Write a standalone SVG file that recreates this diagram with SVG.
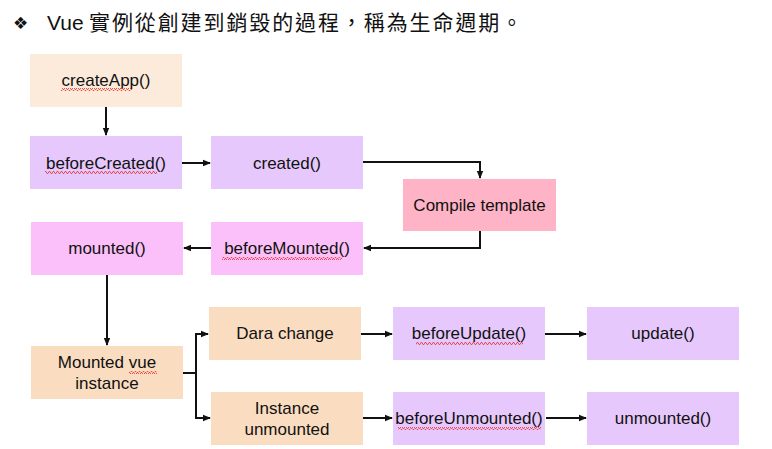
<svg xmlns="http://www.w3.org/2000/svg" width="772" height="449" viewBox="0 0 772 449">
<style>
.t{font-family:"Liberation Sans",Arial,sans-serif;font-size:17px;fill:#111;text-anchor:middle}
.peachL{fill:#FCEADB}.lav{fill:#E6C8FC}.pink{fill:#FFB3C6}.mag{fill:#FBC0F9}.peach{fill:#FADDC0}
.c{fill:none;stroke:#111;stroke-width:2}
.sq{fill:url(#squig)}
</style>
<defs>
<marker id="ah" viewBox="0 0 8 8" refX="7" refY="4" markerWidth="4" markerHeight="4" markerUnits="strokeWidth" orient="auto">
<path d="M0,0.8 L8,4 L0,7.2 Z" fill="#111"/>
</marker>
<pattern id="squig" x="0" y="0" width="4" height="3" patternUnits="userSpaceOnUse">
<path d="M0,2.5 L1,0.5 L2,0.5 L3,2.5 L4,2.5" fill="none" stroke="#E23030" stroke-width="0.8"/>
</pattern>
</defs>
<rect width="772" height="449" fill="#fff"/>
<g id="title">
<text x="13" y="29" font-family="'DejaVu Sans',sans-serif" font-size="17" fill="#111">❖</text>
<text y="30" font-family="'Liberation Sans','Noto Sans CJK TC',sans-serif" fill="#111"><tspan x="47" font-size="21">Vue</tspan><tspan x="89" font-size="21" letter-spacing="1.9" font-family="'Noto Sans CJK TC','Liberation Sans',sans-serif">實例從創建到銷毀的過程，稱為生命週期。</tspan></text>
</g>
<g id="connectors">
<path class="c" d="M106,107 V135" marker-end="url(#ah)"/>
<path class="c" d="M182,163 H210" marker-end="url(#ah)"/>
<path class="c" d="M363,162 H480 V178" marker-end="url(#ah)"/>
<path class="c" d="M480,231 V248 H364" marker-end="url(#ah)"/>
<path class="c" d="M211,248 H184" marker-end="url(#ah)"/>
<path class="c" d="M107,275 V345" marker-end="url(#ah)"/>
<path class="c" d="M183,373 H196"/>
<path class="c" d="M196,373 V334 H208" marker-end="url(#ah)"/>
<path class="c" d="M196,373 V418 H210" marker-end="url(#ah)"/>
<path class="c" d="M361,334 H392" marker-end="url(#ah)"/>
<path class="c" d="M363,418 H392" marker-end="url(#ah)"/>
<path class="c" d="M545,334 H586" marker-end="url(#ah)"/>
<path class="c" d="M546,418 H586" marker-end="url(#ah)"/>
</g>
<g id="createApp"><rect class="peachL" x="30" y="54" width="152" height="53"/><text class="t" x="106" y="86">createApp()</text><rect class="sq" x="61" y="88" width="71" height="3"/></g>
<g id="beforeCreated"><rect class="lav" x="30" y="136" width="152" height="53"/><text class="t" x="106" y="169">beforeCreated()</text><rect class="sq" x="45" y="171" width="112" height="3"/></g>
<g id="created"><rect class="lav" x="211" y="136" width="152" height="53"/><text class="t" x="287" y="169">created()</text></g>
<g id="compile"><rect class="pink" x="403" y="179" width="153" height="52"/><text class="t" x="479.5" y="211">Compile template</text></g>
<g id="mounted"><rect class="mag" x="31" y="222" width="152" height="53"/><text class="t" x="107" y="254">mounted()</text></g>
<g id="beforeMounted"><rect class="mag" x="211" y="222" width="152" height="53"/><text class="t" x="287" y="254">beforeMounted()</text><rect class="sq" x="222" y="257" width="120" height="3"/></g>
<g id="mountedInstance"><rect class="peach" x="31" y="346" width="152" height="53"/><text class="t" x="107" y="368">Mounted vue</text><text class="t" x="107" y="389">instance</text><rect class="sq" x="129" y="371" width="28" height="3"/></g>
<g id="dataChange"><rect class="peach" x="209" y="307" width="152" height="53"/><text class="t" x="285" y="339">Dara change</text></g>
<g id="instanceUnmounted"><rect class="peach" x="211" y="392" width="152" height="53"/><text class="t" x="287" y="414">Instance</text><text class="t" x="287" y="435">unmounted</text></g>
<g id="beforeUpdate"><rect class="lav" x="393" y="307" width="152" height="53"/><text class="t" x="469" y="339">beforeUpdate()</text><rect class="sq" x="416" y="342" width="107" height="3"/></g>
<g id="beforeUnmounted"><rect class="lav" x="393" y="392" width="152" height="53"/><text class="t" x="469" y="424">beforeUnmounted()</text><rect class="sq" x="398" y="427" width="143" height="3"/></g>
<g id="update"><rect class="lav" x="587" y="307" width="152" height="53"/><text class="t" x="663" y="339">update()</text></g>
<g id="unmounted"><rect class="lav" x="587" y="392" width="152" height="53"/><text class="t" x="663" y="424">unmounted()</text></g>
</svg>
